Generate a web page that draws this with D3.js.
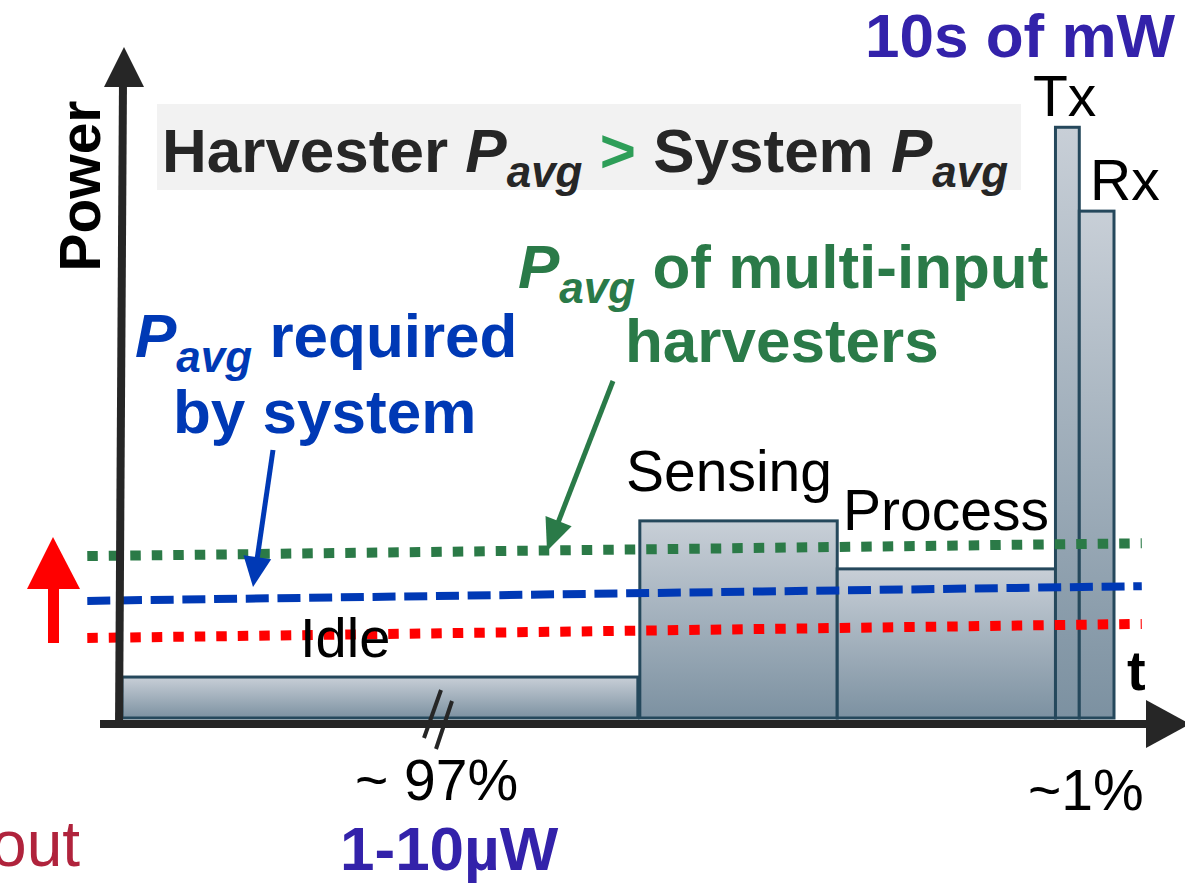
<!DOCTYPE html>
<html><head><meta charset="utf-8">
<script src="https://cdn.jsdelivr.net/npm/d3@7"></script>
<style>html,body{margin:0;padding:0;background:#fff;overflow:hidden}</style>
</head><body>
<svg id="chart" width="1185" height="889"></svg>
<script>
// Duty-cycle power profile of a sensor node (arbitrary time / power units)
const phases     = ["Idle", "Sensing", "Process", "Tx", "Rx"];
const phaseStart = [0, 52.2, 72.1, 94.1, 96.5];
const phaseEnd   = [52.0, 72.1, 94.1, 96.5, 100];
const phasePower = [6.4, 30.8, 23.3, 92.3, 79.2];

// Average-power reference lines, sampled at both ends of the time span
const lineTime        = [-3.5, 102.8];
const harvesterMulti  = [25.3, 27.3];
const systemRequired  = [18.3, 20.6];
const harvesterSingle = [12.5, 14.7];

const FONT = "'Liberation Sans', Arial, Helvetica, sans-serif";
const AXIS = "#262626";
const BLUE = "#0039b5";
const GREEN = "#2a7a48";
const PURPLE = "#3322aa";
const SUB = 44, SUBDY = 15;

const svg = d3.select("#chart").style("font-family", FONT);

const x = d3.scaleLinear().domain([0, 100]).range([122, 1114]);
const y = d3.scaleLinear().domain([0, 100]).range([718, 78]);

// bar gradient
const defs = svg.append("defs");
const grad = defs.append("linearGradient").attr("id", "barFill")
  .attr("x1", 0).attr("y1", 0).attr("x2", 0).attr("y2", 1);
grad.append("stop").attr("offset", "0%").attr("stop-color", "#c8cfd7");
grad.append("stop").attr("offset", "100%").attr("stop-color", "#7c91a1");

// header banner
svg.append("rect").attr("x", 157).attr("y", 104).attr("width", 864).attr("height", 86)
  .attr("fill", "#f2f2f2");

const head = svg.append("text").attr("x", 162).attr("y", 172)
  .attr("font-size", 62).attr("font-weight", "bold").attr("fill", AXIS);
head.append("tspan").text("Harvester ");
head.append("tspan").attr("font-style", "italic").text("P");
head.append("tspan").attr("font-style", "italic").attr("font-size", SUB).attr("dy", SUBDY).text("avg");
head.append("tspan").attr("dy", -SUBDY).text(" ");
head.append("tspan").attr("fill", "#2e9e58").text(">");
head.append("tspan").text(" System ");
head.append("tspan").attr("font-style", "italic").text("P");
head.append("tspan").attr("font-style", "italic").attr("font-size", SUB).attr("dy", SUBDY).text("avg");

// phase bars
svg.append("g").selectAll("rect").data(phases).join("rect")
  .attr("x", (d, i) => x(phaseStart[i]))
  .attr("y", (d, i) => y(phasePower[i]))
  .attr("width", (d, i) => x(phaseEnd[i]) - x(phaseStart[i]))
  .attr("height", (d, i) => y(0) - y(phasePower[i]))
  .attr("fill", "url(#barFill)")
  .attr("stroke", "#25485c").attr("stroke-width", 3);

// average power lines
const line = d3.line().x((d, i) => x(lineTime[i])).y(d => y(d));
svg.append("path").datum(harvesterMulti).attr("d", line)
  .attr("fill", "none").attr("stroke", "#2b7a47").attr("stroke-width", 10)
  .attr("stroke-dasharray", "10.5 11");
svg.append("path").datum(systemRequired).attr("d", line)
  .attr("fill", "none").attr("stroke", BLUE).attr("stroke-width", 8)
  .attr("stroke-dasharray", "23 8.7");
svg.append("path").datum(harvesterSingle).attr("d", line)
  .attr("fill", "none").attr("stroke", "#ff0000").attr("stroke-width", 10)
  .attr("stroke-dasharray", "10.5 11");

// axes
svg.append("line").attr("x1", 100).attr("y1", 724).attr("x2", 1150).attr("y2", 724)
  .attr("stroke", AXIS).attr("stroke-width", 8);
svg.append("path").attr("d", "M1146,700 L1190,724 L1146,748 Z").attr("fill", AXIS);
svg.append("line").attr("x1", 119).attr("y1", 728).attr("x2", 123).attr("y2", 80)
  .attr("stroke", AXIS).attr("stroke-width", 8);
svg.append("path").attr("d", "M124,47 L104,87 L144,87 Z").attr("fill", AXIS);

// axis break marks
svg.append("g").attr("stroke", AXIS).attr("stroke-width", 4)
  .selectAll("line").data([[441, 690, 424, 738], [452, 701, 436, 749]]).join("line")
  .attr("x1", d => d[0]).attr("y1", d => d[1]).attr("x2", d => d[2]).attr("y2", d => d[3]);

// arrows
function arrow(x1, y1, x2, y2, color, w, hl, hw) {
  const dx = x2 - x1, dy = y2 - y1, L = Math.hypot(dx, dy);
  const ux = dx / L, uy = dy / L;
  const bx = x2 - ux * hl, by = y2 - uy * hl;
  svg.append("line").attr("x1", x1).attr("y1", y1).attr("x2", bx + ux * 2).attr("y2", by + uy * 2)
    .attr("stroke", color).attr("stroke-width", w);
  svg.append("path").attr("fill", color)
    .attr("d", `M${x2},${y2} L${bx - uy * hw / 2},${by + ux * hw / 2} L${bx + uy * hw / 2},${by - ux * hw / 2} Z`);
}
arrow(273, 450, 253, 587, BLUE, 5, 30, 28);
arrow(613, 381, 547, 551, GREEN, 5, 32, 28);

// red "raise" arrow
svg.append("rect").attr("x", 48).attr("y", 586).attr("width", 11).attr("height", 57).attr("fill", "#ff0000");
svg.append("path").attr("d", "M53,537 L80,589 L27,589 Z").attr("fill", "#ff0000");

// labels
function label(t, lx, ly, size, opts = {}) {
  return svg.append("text").attr("x", lx).attr("y", ly).attr("font-size", size)
    .attr("font-weight", opts.bold ? "bold" : "normal")
    .attr("fill", opts.color || "#000").attr("text-anchor", opts.anchor || "start").text(t);
}
label("Idle", 300, 657, 56);
label("Sensing", 626, 491, 57);
label("Process", 843, 530, 57);
label("Tx", 1033, 116, 57);
label("Rx", 1090, 200, 57);
label("t", 1127, 690, 56, {bold: true});
label("~ 97%", 355, 800, 57);
label("~1%", 1028, 810, 57);
label("10s of mW", 865, 57, 62, {bold: true, color: PURPLE});
label("1-10µW", 340, 870, 62, {bold: true, color: PURPLE});
label("out", 80, 866, 64, {color: "#b0233c", anchor: "end"});

svg.append("text").attr("transform", "translate(100,186) rotate(-90)")
  .attr("text-anchor", "middle").attr("font-size", 57).attr("font-weight", "bold").text("Power");

// blue annotation
const b1 = svg.append("text").attr("x", 135).attr("y", 357).attr("font-size", 62)
  .attr("font-weight", "bold").attr("fill", BLUE);
b1.append("tspan").attr("font-style", "italic").text("P");
b1.append("tspan").attr("font-style", "italic").attr("font-size", SUB).attr("dy", SUBDY).text("avg");
b1.append("tspan").attr("dy", -SUBDY).text(" required");
label("by system", 173, 433, 62, {bold: true, color: BLUE});

// green annotation
const g1 = svg.append("text").attr("x", 518).attr("y", 288).attr("font-size", 62)
  .attr("font-weight", "bold").attr("fill", GREEN);
g1.append("tspan").attr("font-style", "italic").text("P");
g1.append("tspan").attr("font-style", "italic").attr("font-size", SUB).attr("dy", SUBDY).text("avg");
g1.append("tspan").attr("dy", -SUBDY).text(" of multi-input");
label("harvesters", 625, 362, 62, {bold: true, color: GREEN});
</script>
</body></html>
